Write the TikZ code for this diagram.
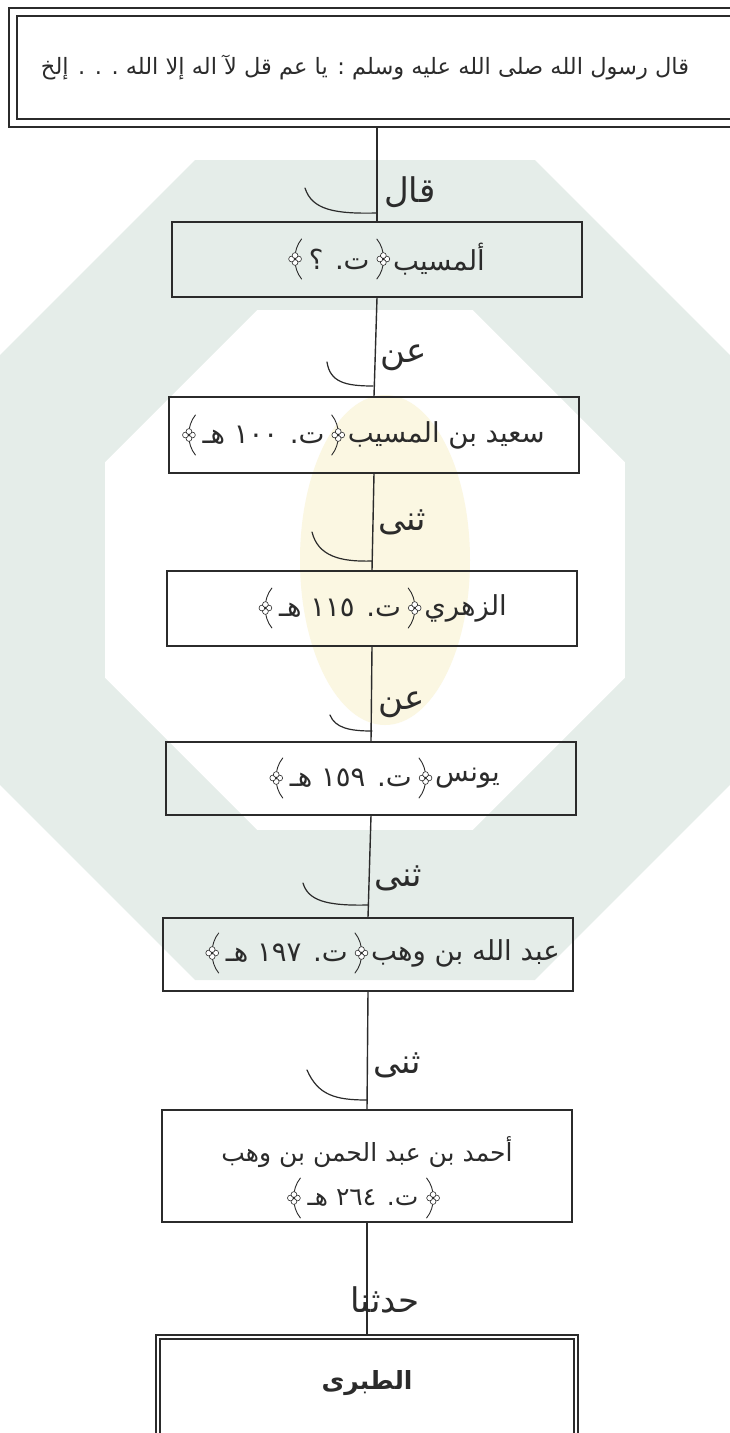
\documentclass[tikz,border=0pt]{standalone}
\usepackage{fontspec}
\TeXXeTstate=1
\newfontfamily\arabicfont[Script=Arabic]{DejaVu Sans}
\usetikzlibrary{shapes.geometric,calc}
\definecolor{wmgreen}{HTML}{E5EDE9}
\definecolor{wmyellow}{HTML}{FBF7E2}
\definecolor{ink}{HTML}{2B2B2B}
% ornate brackets (no installed font has U+FD3E/FD3F): drawn as small shapes
\tikzset{
  petals/.pic={\foreach \a in {0,90,180,270}{\draw[ink,line width=0.6pt,fill=white] (\a:3.5) circle (2.9);}
    \fill[ink] (0,0) circle (1.2);},
  ornR/.pic={\draw[ink,line width=0.9pt,line cap=round] (-3,-20) .. controls (6,-9) and (6,9) .. (-3,20);
    \pic at (3.5,0) {petals};},
  ornL/.pic={\draw[ink,line width=0.9pt,line cap=round] (3,-20) .. controls (-6,-9) and (-6,9) .. (3,20);
    \pic at (-3.5,0) {petals};}}
% one line "name {ornament} date {ornament}", set right to left from its right end
\newcommand\ornline[5]{%
  \node[txt,anchor=east] (#1n) at (#2,#3) {#4};
  \pic at ($(#1n.west)+(-13,0)$) {ornR};
  \node[txt,anchor=east] (#1d) at ($(#1n.west)+(-23,0)$) {#5};
  \pic at ($(#1d.west)+(-10,0)$) {ornL};}
\begin{document}
\begin{tikzpicture}[x=1pt,y=-1pt,
  box/.style={draw=ink,line width=1.1pt,minimum width=410pt,inner sep=0pt},
  txt/.style={font=\arabicfont\fontsize{27.5}{36}\selectfont,text=ink,inner sep=0pt},
  lbl/.style={font=\arabicfont\fontsize{34}{40}\selectfont,text=ink,inner sep=0pt,anchor=west},
  link/.style={draw=ink,line width=1.4pt},
  swash/.style={draw=ink,line width=1.2pt,line cap=round}]
\useasboundingbox (0,0) rectangle (730,1433);
% watermark
\node[regular polygon,regular polygon sides=8,minimum size=887.6pt,fill=wmgreen,inner sep=0pt] (wmo) at (365,570) {};
\node[regular polygon,regular polygon sides=8,minimum size=562.8pt,fill=white,inner sep=0pt] (wmi) at (365,570) {};
\node[ellipse,minimum width=170pt,minimum height=330pt,fill=wmyellow,inner sep=0pt] (wmy) at (385,560) {};
% top box
\draw[ink,line width=2.2pt] (9,8) rectangle (760,127);
\draw[ink,line width=1.4pt] (17,16) rectangle (760,119);
\node[font=\arabicfont\fontsize{22.5}{28}\selectfont,text=ink,inner sep=0pt] (top) at (365,68)
  {\beginR قال رسول الله صلى الله عليه وسلم : يا عم قل لآ اله إلا الله . . . إلخ\endR};
\coordinate (topb) at (377,127);
% boxes
\node[box,minimum height=75pt] (b1) at (377,259.5) {};
\node[box,minimum height=76pt] (b2) at (374,435) {};
\node[box,minimum height=75pt] (b3) at (372,608.5) {};
\node[box,minimum height=73pt] (b4) at (371,778.5) {};
\node[box,minimum height=73pt] (b5) at (368,954.5) {};
\node[box,minimum height=112pt] (b6) at (367,1166) {};
\node[box,minimum height=112pt,minimum width=418pt,line width=1.6pt,double=white,double distance=2.5pt] (b7) at (367,1393) {};
% box texts
\ornline{t1}{485}{259}{\beginR ألمسيب\endR}{\beginR ت. ؟\endR}
\ornline{t2}{545}{435}{\beginR سعيد بن المسيب\endR}{\beginR ت. ١٠٠ هـ\endR}
\ornline{t3}{507}{608}{\beginR الزهري\endR}{\beginR ت. ١١٥ هـ\endR}
\ornline{t4}{500}{778}{\beginR يونس\endR}{\beginR ت. ١٥٩ هـ\endR}
\ornline{t5}{560}{953}{\beginR عبد الله بن وهب\endR}{\beginR ت. ١٩٧ هـ\endR}
\node[txt,font=\arabicfont\fontsize{25}{32}\selectfont] (t6n) at (367,1152) {\beginR أحمد بن عبد الحمن بن وهب\endR};
\node[txt,font=\arabicfont\fontsize{25}{32}\selectfont] (t6d) at (363,1198) {\beginR ت. ٢٦٤ هـ\endR};
\pic at ($(t6d.east)+(11,0)$) {ornR};
\pic at ($(t6d.west)+(-10,0)$) {ornL};
\node[font=\arabicfont\bfseries\fontsize{25}{32}\selectfont,text=ink,inner sep=0pt] (t7) at (367,1383) {\beginR الطبرى\endR};
% connectors
\draw[link] (topb) -- (b1.north);
\draw[link] (b1.south) -- (b2.north);
\draw[link] (b2.south) -- (b3.north);
\draw[link] (b3.south) -- (b4.north);
\draw[link] (b4.south) -- (b5.north);
\draw[link] (b5.south) -- (b6.north);
\draw[link] (b6.south) -- (b7.north);
% labels
\node[lbl] (l1) at (384,192) {\beginR قال\endR};
\node[lbl] (l2) at (380,358) {\beginR عن\endR};
\node[lbl] (l3) at (378,522) {\beginR ثنى\endR};
\node[lbl] (l4) at (378,705) {\beginR عن\endR};
\node[lbl] (l5) at (374,878) {\beginR ثنى\endR};
\node[lbl] (l6) at (373,1065) {\beginR ثنى\endR};
\node[lbl,anchor=center] (l7) at (385,1300) {\beginR حدثنا\endR};
% swashes
\draw[swash] (305,188) .. controls (312,210) and (335,214) .. (377,213);
\draw[swash] (327,362) .. controls (330,382) and (345,386) .. (373,386);
\draw[swash] (312,532) .. controls (318,556) and (340,562) .. (372,561);
\draw[swash] (330,715) .. controls (335,728) and (350,731) .. (372,731);
\draw[swash] (303,883) .. controls (308,900) and (325,906) .. (368,905);
\draw[swash] (307,1070) .. controls (318,1095) and (335,1100) .. (367,1100);
\end{tikzpicture}
\end{document}
